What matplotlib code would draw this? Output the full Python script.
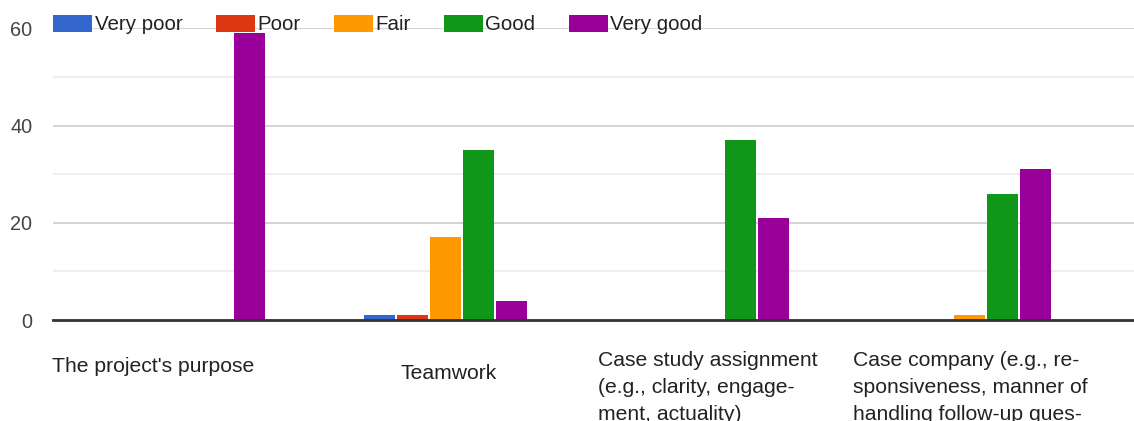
import matplotlib.pyplot as plt
import numpy as np

plt.rcParams['font.family'] = ['Liberation Sans', 'DejaVu Sans']

categories = ["The project's purpose", "Teamwork",
              "Case study assignment (e.g., clarity, engagement, actuality)",
              "Case company (e.g., responsiveness, manner of handling follow-up questions)"]
# label lines as they are wrapped in the original
label_lines = [["The project's purpose"],
               ["Teamwork"],
               ["Case study assignment", "(e.g., clarity, engage-", "ment, actuality)"],
               ["Case company (e.g., re-", "sponsiveness, manner of", "handling follow-up ques-"]]
series = ['Very poor', 'Poor', 'Fair', 'Good', 'Very good']
very_poor = [0, 1, 0, 0]
poor = [0, 1, 0, 0]
fair = [0, 17, 0, 1]
good = [0, 35, 37, 26]
very_good = [59, 4, 21, 31]
values = [very_poor, poor, fair, good, very_good]
colors = ['#3366cc', '#dc3912', '#ff9900', '#109618', '#990099']

W, H = 1134, 421
fig = plt.figure(figsize=(W / 100, H / 100), dpi=100)
ax = fig.add_axes([53 / W, (H - 320) / H, (W - 53) / W, (320 - 28.3) / H])

x = np.arange(len(categories))
step = 33 / 262
width = 31 / 262
handles = []
for i, (name, vals, c) in enumerate(zip(series, values, colors)):
    b = ax.bar(x + (i - 2) * step, vals, width, color=c, linewidth=0, label=name, zorder=3)
    handles.append(b)

ax.set_xlim(-0.5, 3.626)
ax.set_ylim(0, 60)
ax.set_yticks([0, 20, 40, 60])
ax.set_yticks([10, 30, 50], minor=True)
ax.set_xticks([])
ax.grid(axis='y', which='major', color='#cccccc', linewidth=1.2, zorder=0)
ax.grid(axis='y', which='minor', color='#ebebeb', linewidth=1.2, zorder=0)
ax.axhline(0, color='#333333', linewidth=2, zorder=4, clip_on=False)
for s in ax.spines.values():
    s.set_visible(False)
ax.tick_params(axis='y', which='both', length=0, pad=15, labelsize=14.3, labelcolor='#444444')

# category labels under the groups
label_x = [52.5, 400.5, 598, 853]
first_baseline = [372.3, 379, 366, 366]
for lines, lx, by in zip(label_lines, label_x, first_baseline):
    for k, line in enumerate(lines):
        fig.text(lx / W, 1 - (by + 27 * k) / H, line, fontsize=15.2, color='#222222',
                 ha='left', va='baseline')

ax.legend(handles=handles, labels=series, loc='center left', ncol=5,
          bbox_to_anchor=(53 / W, 1 - 24.7 / H), bbox_transform=fig.transFigure,
          frameon=False, fontsize=14.8, borderpad=0, borderaxespad=0,
          handlelength=1.9, handleheight=0.88, handletextpad=0.12, columnspacing=1.62,
          labelcolor='#222222')

fig.savefig('out.png', dpi=100)
